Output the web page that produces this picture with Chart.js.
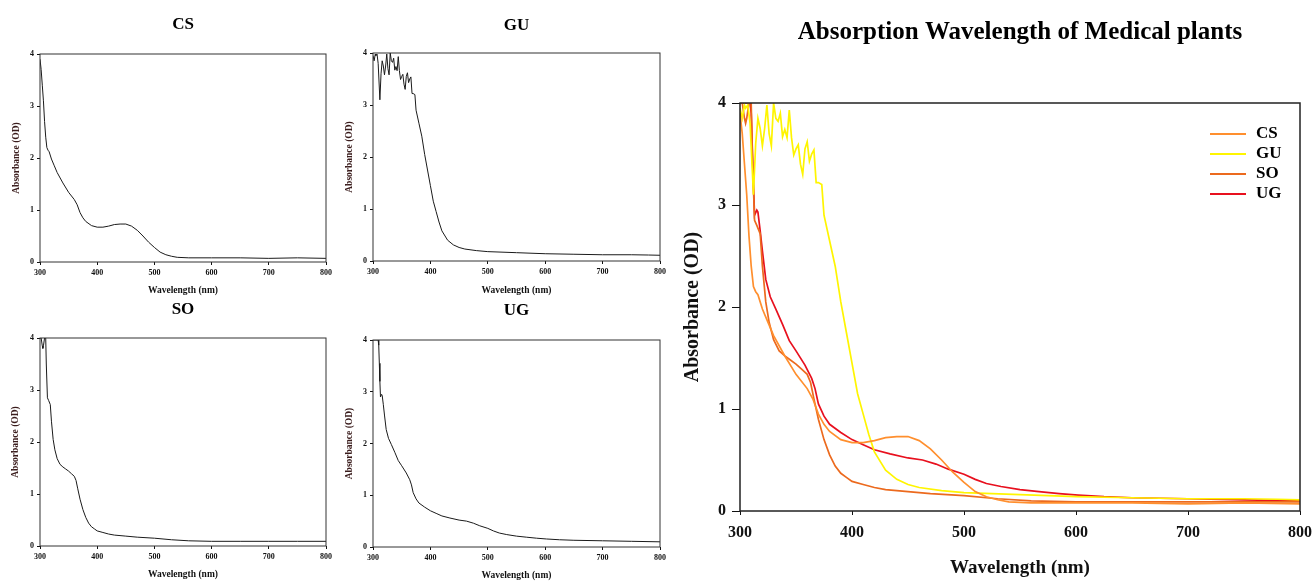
<!DOCTYPE html>
<html>
<head>
<meta charset="utf-8">
<title>Absorption Wavelength of Medical plants</title>
<script src="https://cdn.jsdelivr.net/npm/chart.js@4.4.1/dist/chart.umd.min.js"></script>
<style>
    html, body { margin: 0; padding: 0; background: #fff; }
    body { width: 1312px; height: 581px; position: relative; overflow: hidden; }
    canvas { position: absolute; display: block; }
</style>
</head>
<body>
<canvas id="csChart" width="340" height="298" style="left:0;top:0"></canvas>
<canvas id="guChart" width="340" height="298" style="left:340px;top:0"></canvas>
<canvas id="soChart" width="340" height="286" style="left:0;top:295px"></canvas>
<canvas id="ugChart" width="340" height="286" style="left:340px;top:295px"></canvas>
<canvas id="allChart" width="632" height="581" style="left:680px;top:0"></canvas>

<script>
// Spectra (wavelength in nm, absorbance in OD)
const csWave = [300, 302, 304, 306, 308, 310, 312, 314, 316, 320, 325, 330, 340, 350, 360, 365, 370, 375, 380, 390, 400, 410, 420, 430, 440, 450, 460, 470, 480, 490, 500, 510, 520, 530, 540, 560, 600, 650, 700, 750, 800];
const csAbs  = [3.9, 3.7, 3.4, 3.1, 2.7, 2.4, 2.2, 2.15, 2.12, 1.98, 1.85, 1.72, 1.52, 1.34, 1.2, 1.1, 0.95, 0.85, 0.78, 0.7, 0.67, 0.67, 0.69, 0.72, 0.73, 0.73, 0.69, 0.61, 0.5, 0.38, 0.28, 0.19, 0.14, 0.11, 0.09, 0.08, 0.08, 0.08, 0.07, 0.08, 0.07];

const guWave = [300, 302, 304, 305, 307, 309, 312, 314, 316, 318, 320, 322, 324, 326, 328, 330, 332, 334, 336, 338, 340, 342, 344, 346, 348, 350, 352, 354, 356, 358, 360, 362, 364, 366, 368, 370, 373, 375, 380, 385, 390, 395, 400, 405, 410, 415, 420, 430, 440, 450, 460, 480, 500, 550, 600, 650, 700, 750, 780, 800];
const guAbs  = [3.95, 3.85, 3.98, 3.95, 3.98, 3.8, 3.1, 3.6, 3.85, 3.75, 3.58, 3.75, 3.98, 3.7, 3.58, 4.0, 3.85, 3.82, 3.9, 3.67, 3.74, 3.66, 3.93, 3.66, 3.49, 3.55, 3.59, 3.4, 3.3, 3.55, 3.62, 3.43, 3.5, 3.54, 3.22, 3.22, 3.2, 2.9, 2.65, 2.4, 2.05, 1.75, 1.45, 1.15, 0.95, 0.75, 0.58, 0.4, 0.31, 0.26, 0.23, 0.2, 0.18, 0.16, 0.14, 0.13, 0.12, 0.12, 0.115, 0.11];

const soWave = [300, 302, 304, 305, 306, 308, 310, 311, 313, 315, 318, 320, 323, 326, 330, 335, 340, 345, 350, 355, 360, 363, 366, 370, 375, 380, 385, 390, 395, 400, 410, 420, 430, 450, 470, 500, 530, 560, 600, 650, 700, 750, 800];
const soAbs  = [4.0, 4.0, 3.85, 3.8, 3.85, 4.0, 4.0, 3.5, 2.85, 2.8, 2.72, 2.4, 2.05, 1.85, 1.68, 1.57, 1.52, 1.48, 1.44, 1.39, 1.34, 1.26, 1.1, 0.9, 0.7, 0.55, 0.44, 0.37, 0.33, 0.29, 0.26, 0.23, 0.21, 0.19, 0.17, 0.15, 0.12, 0.1, 0.09, 0.09, 0.09, 0.09, 0.09];

const ugWave = [300, 305, 309, 310, 311, 312, 313, 315, 316, 318, 320, 323, 327, 332, 338, 344, 350, 358, 364, 367, 370, 375, 380, 390, 400, 410, 420, 434, 450, 463, 475, 486, 500, 510, 520, 533, 550, 567, 585, 602, 625, 650, 700, 750, 800];
const ugAbs  = [4.0, 4.0, 4.0, 3.9, 3.55, 3.2, 2.9, 2.95, 2.93, 2.75, 2.55, 2.27, 2.1, 1.98, 1.83, 1.67, 1.57, 1.43, 1.3, 1.2, 1.05, 0.93, 0.85, 0.77, 0.7, 0.65, 0.6, 0.56, 0.52, 0.5, 0.46, 0.41, 0.36, 0.31, 0.27, 0.24, 0.21, 0.19, 0.17, 0.155, 0.14, 0.13, 0.12, 0.11, 0.1];

const sampleNames = ['CS', 'GU', 'SO', 'UG'];
const sampleColors = ['#FF8F2E', '#FFF500', '#EC6A1E', '#E8101E'];
const xTicks = [300, 400, 500, 600, 700, 800];
const yTicks = [0, 1, 2, 3, 4];

const serif = "'Liberation Serif', 'Times New Roman', serif";

document.addEventListener('DOMContentLoaded', function() {
    initializeCharts();
});

function toPoints(xs, ys) {
    return xs.map((x, i) => ({ x: x, y: ys[i] }));
}

// draws the closed box around the plot area
const frameBox = {
    id: 'frameBox',
    afterDatasetsDraw(chart, args, opts) {
        const a = chart.chartArea;
        const ctx = chart.ctx;
        ctx.save();
        ctx.strokeStyle = opts.color || '#000';
        ctx.lineWidth = opts.width || 1;
        ctx.strokeRect(a.left, a.top, a.right - a.left, a.bottom - a.top);
        ctx.restore();
    }
};

// legend drawn inside the plot, top right
const insideLegend = {
    id: 'insideLegend',
    afterDraw(chart) {
        const a = chart.chartArea;
        const ctx = chart.ctx;
        ctx.save();
        ctx.font = 'bold 17px ' + serif;
        ctx.textBaseline = 'middle';
        chart.data.datasets.forEach((ds, i) => {
            const y = a.top + 31 + i * 20;
            ctx.strokeStyle = ds.borderColor;
            ctx.lineWidth = 2;
            ctx.beginPath();
            ctx.moveTo(a.right - 90, y);
            ctx.lineTo(a.right - 54, y);
            ctx.stroke();
            ctx.fillStyle = '#000';
            ctx.fillText(ds.label, a.right - 44, y);
        });
        ctx.restore();
    }
};

function axisOptions(g, big) {
    const tickFont = { family: serif, size: big ? 16 : 8, weight: 'bold' };
    return {
        x: {
            type: 'linear', min: xTicks[0], max: xTicks[xTicks.length - 1],
            afterBuildTicks: s => { s.ticks = xTicks.map(v => ({ value: v })); },
            ticks: { color: '#111', font: tickFont, padding: big ? 8 : 3, maxRotation: 0 },
            grid: { drawOnChartArea: false, tickLength: big ? 4 : 3, color: '#111' },
            border: { display: false },
            title: {
                display: true, text: 'Wavelength (nm)', color: '#111',
                font: { family: serif, size: big ? 19 : 9.5, weight: 'bold' },
                padding: { top: 0, bottom: g.xTitlePad }
            },
            afterFit: s => { s.height = g.xHeight; s.paddingLeft = 0; s.paddingRight = 0; }
        },
        y: {
            min: yTicks[0], max: yTicks[yTicks.length - 1],
            afterBuildTicks: s => { s.ticks = yTicks.map(v => ({ value: v })); },
            ticks: { color: '#111', font: tickFont, padding: big ? 6 : 3 },
            grid: { drawOnChartArea: false, tickLength: big ? 8 : 3, color: '#111' },
            border: { display: false },
            title: {
                display: true, text: 'Absorbance (OD)', color: big ? '#111' : '#3a1c1c',
                font: { family: serif, size: big ? 20 : 9.5, weight: 'bold' },
                padding: { top: g.yTitlePad, bottom: 0 }
            },
            afterFit: s => { s.width = g.yWidth; }
        }
    };
}

function titleOptions(text, size, g) {
    return {
        display: true, text: text, fullSize: false, color: '#000',
        font: { family: serif, size: size, weight: 'bold' },
        padding: { top: g.titleTop, bottom: g.titleBottom }
    };
}

function smallChart(id, name, xs, ys, g) {
    new Chart(document.getElementById(id), {
        type: 'line',
        data: {
            datasets: [{
                label: name,
                data: toPoints(xs, ys),
                borderColor: '#1a1a1a',
                borderWidth: 1,
                pointRadius: 0,
                tension: 0
            }]
        },
        options: {
            responsive: false,
            animation: false,
            events: [],
            layout: { padding: { right: g.padRight } },
            plugins: {
                legend: { display: false },
                tooltip: { enabled: false },
                title: titleOptions(name, 17, g),
                frameBox: { width: 1, color: '#333' }
            },
            scales: axisOptions(g, false)
        },
        plugins: [frameBox]
    });
}

function initializeCharts() {
    smallChart('csChart', 'CS', csWave, csAbs,
        { yWidth: 40, padRight: 14, xHeight: 36, titleTop: 14.8, titleBottom: 18.8, xTitlePad: 1.3, yTitlePad: 11.3 });
    smallChart('guChart', 'GU', guWave, guAbs,
        { yWidth: 33, padRight: 20, xHeight: 37, titleTop: 15.8, titleBottom: 16.8, xTitlePad: 1.3, yTitlePad: 4.3 });
    smallChart('soChart', 'SO', soWave, soAbs,
        { yWidth: 40, padRight: 14, xHeight: 35, titleTop: 4.8, titleBottom: 17.8, xTitlePad: 0.3, yTitlePad: 10.3 });
    smallChart('ugChart', 'UG', ugWave, ugAbs,
        { yWidth: 33, padRight: 20, xHeight: 34, titleTop: 5.5, titleBottom: 19.1, xTitlePad: 0, yTitlePad: 3.6 });

    // Combined spectra
    const bigGeom = { yWidth: 60, padRight: 12, xHeight: 70, titleTop: 18, titleBottom: 55, xTitlePad: 1.6, yTitlePad: 1 };
    const series = [csAbs, guAbs, soAbs, ugAbs];
    const waves = [csWave, guWave, soWave, ugWave];
    new Chart(document.getElementById('allChart'), {
        type: 'line',
        data: {
            datasets: sampleNames.map((name, i) => ({
                label: name,
                data: toPoints(waves[i], series[i]),
                borderColor: sampleColors[i],
                borderWidth: 1.7,
                pointRadius: 0,
                tension: 0
            }))
        },
        options: {
            responsive: false,
            animation: false,
            events: [],
            layout: { padding: { right: bigGeom.padRight } },
            plugins: {
                legend: { display: false },
                tooltip: { enabled: false },
                title: titleOptions('Absorption Wavelength of Medical plants', 25, bigGeom),
                frameBox: { width: 1.5, color: '#222' }
            },
            scales: axisOptions(bigGeom, true)
        },
        plugins: [frameBox, insideLegend]
    });
}
</script>
</body>
</html>
